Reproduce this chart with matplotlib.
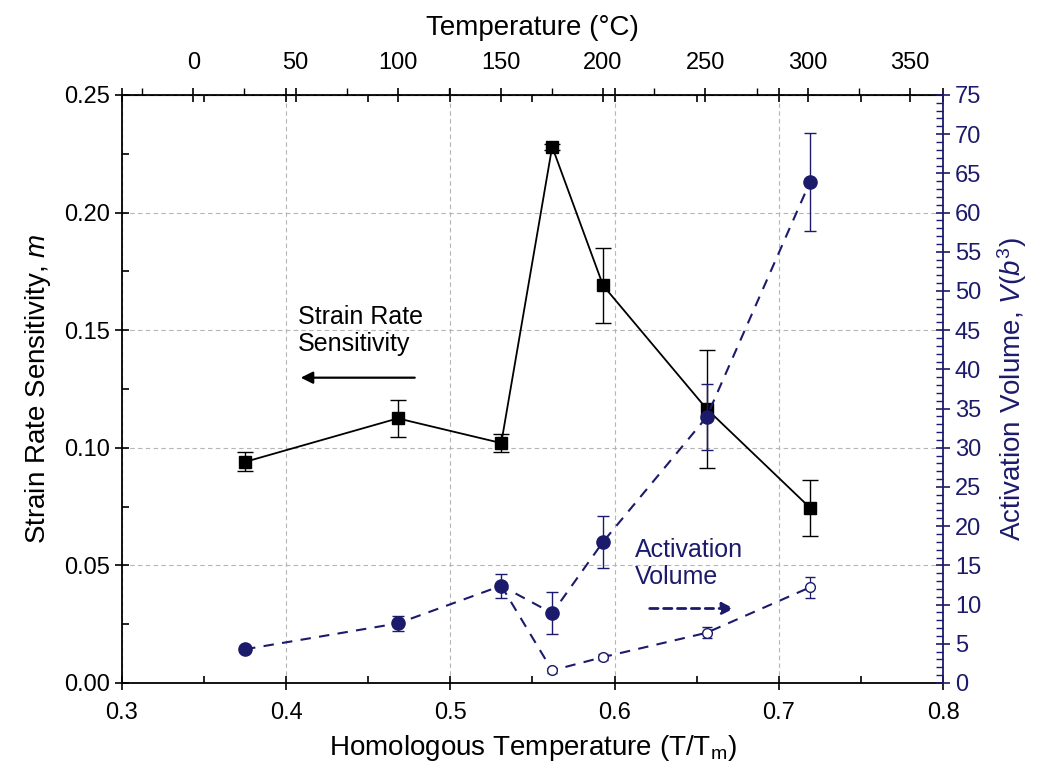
import matplotlib
matplotlib.use('Agg')
import matplotlib.pyplot as plt
from matplotlib.ticker import MultipleLocator

# homologous temperature T/Tm of the test points
h = [0.375, 0.468, 0.531, 0.562, 0.593, 0.656, 0.719]

# strain rate sensitivity m (black squares)
m = [0.094, 0.1125, 0.102, 0.228, 0.169, 0.1166, 0.0745]
m_err = [0.004, 0.008, 0.0038, 0.0012, 0.0158, 0.025, 0.012]

# activation volume, filled circles
v_fill = [4.3, 7.6, 12.4, 8.9, 18.0, 33.9, 63.9]
v_fill_err = [0.3, 1.0, 1.5, 2.7, 3.3, 4.2, 6.2]

# activation volume, open circles (branch starts at the 150 C point)
h_open = [0.531, 0.562, 0.593, 0.656, 0.719]
v_open = [12.4, 1.6, 3.3, 6.4, 12.2]
v_open_err = [0.0, 0.3, 0.4, 0.7, 1.3]

x_ticks = [0.3, 0.4, 0.5, 0.6, 0.7, 0.8]
x_labels = ['0.3', '0.4', '0.5', '0.6', '0.7', '0.8']
y_ticks = [0, 0.05, 0.1, 0.15, 0.2, 0.25]
y_labels = ['0.00', '0.05', '0.10', '0.15', '0.20', '0.25']
temp_ticks = [0, 50, 100, 150, 200, 250, 300, 350]

navy = '#1c1a6b'

plt.rcParams['font.family'] = ['Liberation Sans', 'DejaVu Sans']
plt.rcParams['mathtext.fontset'] = 'custom'
plt.rcParams['mathtext.rm'] = 'Liberation Sans'
plt.rcParams['mathtext.it'] = 'Liberation Sans:italic'

fig = plt.figure(figsize=(10.42, 7.74), dpi=100)
ax = fig.add_axes([0.117, 0.1176, 0.788, 0.7597])

ax.set_xlim(0.3, 0.8)
ax.set_ylim(0, 0.25)
ax.set_xticks(x_ticks)
ax.set_xticklabels(x_labels)
ax.xaxis.set_minor_locator(MultipleLocator(0.05))
ax.set_yticks(y_ticks)
ax.set_yticklabels(y_labels)
ax.yaxis.set_minor_locator(MultipleLocator(0.025))
ax.grid(True, which='major', color='#b5b5b5', linestyle=(0, (4, 3)), linewidth=0.8)
ax.tick_params(which='major', direction='inout', length=10, width=1.2, labelsize=17, top=True, right=False)
ax.tick_params(which='minor', direction='in', length=5, width=1.2, top=True, right=False)
ax.tick_params(axis='x', pad=9)
ax.spines['right'].set_visible(False)
for s in ['left', 'bottom', 'top']:
    ax.spines[s].set_linewidth(1.3)

ax.errorbar(h, m, yerr=m_err, color='black', marker='s', markersize=8.5, lw=1.3,
            capsize=6, elinewidth=1.0, capthick=1.0, zorder=3)

ax.set_xlabel('Homologous Temperature (T/T$_{\\rm m}$)', fontsize=20, labelpad=6)
ax.set_ylabel('Strain Rate Sensitivity, $m$', fontsize=20, labelpad=8)

ax.text(0.4072, 0.150, 'Strain Rate\nSensitivity', fontsize=18, va='center', ha='left', linespacing=1.15)
ax.annotate('', xy=(0.4072, 0.1298), xytext=(0.480, 0.1298),
            arrowprops=dict(arrowstyle='-|>', color='black', lw=1.6, mutation_scale=18))

# right axis: activation volume
ax2 = ax.twinx()
ax2.set_ylim(0, 75)
ax2.yaxis.set_major_locator(MultipleLocator(5))
ax2.yaxis.set_minor_locator(MultipleLocator(1))
ax2.tick_params(which='major', direction='inout', length=10, width=1.2, labelsize=17, colors=navy)
ax2.tick_params(which='minor', direction='in', length=5, width=1.0, colors=navy)
ax2.spines['right'].set_color(navy)
ax2.spines['right'].set_linewidth(1.3)
ax2.spines['left'].set_visible(False)
ax2.spines['top'].set_visible(False)
ax2.spines['bottom'].set_visible(False)
ax2.set_ylabel('Activation Volume, $V$($b^3$)', fontsize=20, color=navy, labelpad=10)

ax2.plot(h_open, v_open, color=navy, ls=(0, (5, 4)), lw=1.5, zorder=2)
ax2.errorbar(h_open[1:], v_open[1:], yerr=v_open_err[1:], color=navy, ls='none', marker='o',
             markersize=7, mfc='white', mec=navy, mew=1.0, capsize=3.5, elinewidth=0.9, zorder=3)
ax2.errorbar(h, v_fill, yerr=v_fill_err, color=navy, ls=(0, (5, 4)), lw=1.5, marker='o',
             markersize=9.5, capsize=4, elinewidth=1.0, capthick=1.0, zorder=4)

ax2.text(0.6124, 15.2, 'Activation\nVolume', fontsize=18, color=navy, va='center', ha='left', linespacing=1.15)
ax2.annotate('', xy=(0.6745, 9.5), xytext=(0.6197, 9.5),
             arrowprops=dict(arrowstyle='-|>', color=navy, lw=2.0, ls=(0, (3, 2)), mutation_scale=18))

# top axis: temperature in C (linear map to T/Tm)
def h_to_c(x):
    return (x - 0.34342) / 0.0012475

def c_to_h(t):
    return 0.34342 + 0.0012475 * t

top = ax.secondary_xaxis('top', functions=(h_to_c, c_to_h))
top.set_xticks(temp_ticks)
top.xaxis.set_minor_locator(MultipleLocator(25))
top.tick_params(which='major', direction='inout', length=10, width=1.2, labelsize=17, pad=10)
top.tick_params(which='minor', direction='out', length=5, width=1.0)
top.set_xlabel('Temperature (°C)', fontsize=20, labelpad=12)

fig.savefig('out.png', dpi=100)
